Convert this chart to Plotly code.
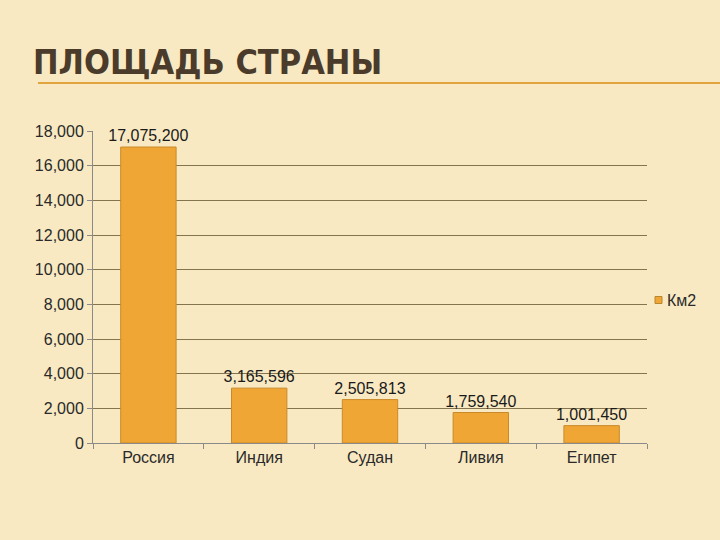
import plotly.graph_objects as go

categories = ["Россия", "Индия", "Судан", "Ливия", "Египет"]
values_km2 = [17075200, 3165596, 2505813, 1759540, 1001450]
values_thousands = [v / 1000 for v in values_km2]
labels = [f"{v:,}" for v in values_km2]
series_name = "Км2"
y_ticks = list(range(0, 18001, 2000))

L, R, T, B = 93, 647, 131, 443
W, H = 720, 540

def px_x(p):
    return (p - L) / (R - L)

def px_y(p):
    return (B - p) / (B - T)

fig = go.Figure()
fig.add_trace(go.Bar(
    x=categories, y=values_thousands, name=series_name,
    text=labels, textposition="outside", cliponaxis=False,
    constraintext="none",
    textfont=dict(size=16, color="#1a1a1a", family="Liberation Sans, Arial"),
    marker=dict(color="#F0A635", line=dict(color="#C98A2A", width=1)),
    width=0.5, showlegend=False,
))

fig.update_layout(
    width=W, height=H,
    margin=dict(l=L, r=W - R, t=T, b=H - B, autoexpand=False),
    paper_bgcolor="#F8E9C2", plot_bgcolor="rgba(0,0,0,0)",
    font=dict(family="Liberation Sans, Arial", size=16, color="#2a2a2a"),
    showlegend=False,
    bargap=0.5,
)
fig.update_yaxes(range=[0, 18000], tickvals=y_ticks, tickformat=",",
                 showgrid=True, gridcolor="#85754F", gridwidth=1.3,
                 showline=True, linecolor="#8a8a8a", linewidth=1,
                 ticks="outside", ticklen=5, tickcolor="#8a8a8a",
                 zeroline=False, ticklabelstandoff=0)
fig.update_xaxes(showline=True, linecolor="#8a8a8a", linewidth=1,
                 ticks="outside", ticklen=5, tickcolor="#8a8a8a",
                 tickson="boundaries", showgrid=False)

# Legend (drawn manually to match the small marker)
fig.add_shape(type="rect", xref="paper", yref="paper",
              x0=px_x(655), x1=px_x(662), y0=px_y(303.5), y1=px_y(296.5),
              fillcolor="#F0A635", line=dict(color="#B8862E", width=1))
fig.add_annotation(text=series_name, xref="paper", yref="paper",
                   x=px_x(665), y=px_y(300), xanchor="left", yanchor="middle",
                   showarrow=False, font=dict(size=16, color="#2a2a2a"))

# Title and underline
fig.add_annotation(
    text="<b>ПЛОЩАДЬ СТРАНЫ</b>", xref="paper", yref="paper",
    x=px_x(31), y=px_y(84), xanchor="left", yanchor="bottom", showarrow=False,
    font=dict(size=34, color="#4A3B2B",
              family="Liberation Sans Narrow, Arial Narrow, DejaVu Sans Condensed, Liberation Sans"),
)
fig.add_shape(type="line", xref="paper", yref="paper",
              x0=px_x(38), x1=px_x(720), y0=px_y(83), y1=px_y(83),
              line=dict(color="#E3A33D", width=2))

fig.write_html("out.html")
